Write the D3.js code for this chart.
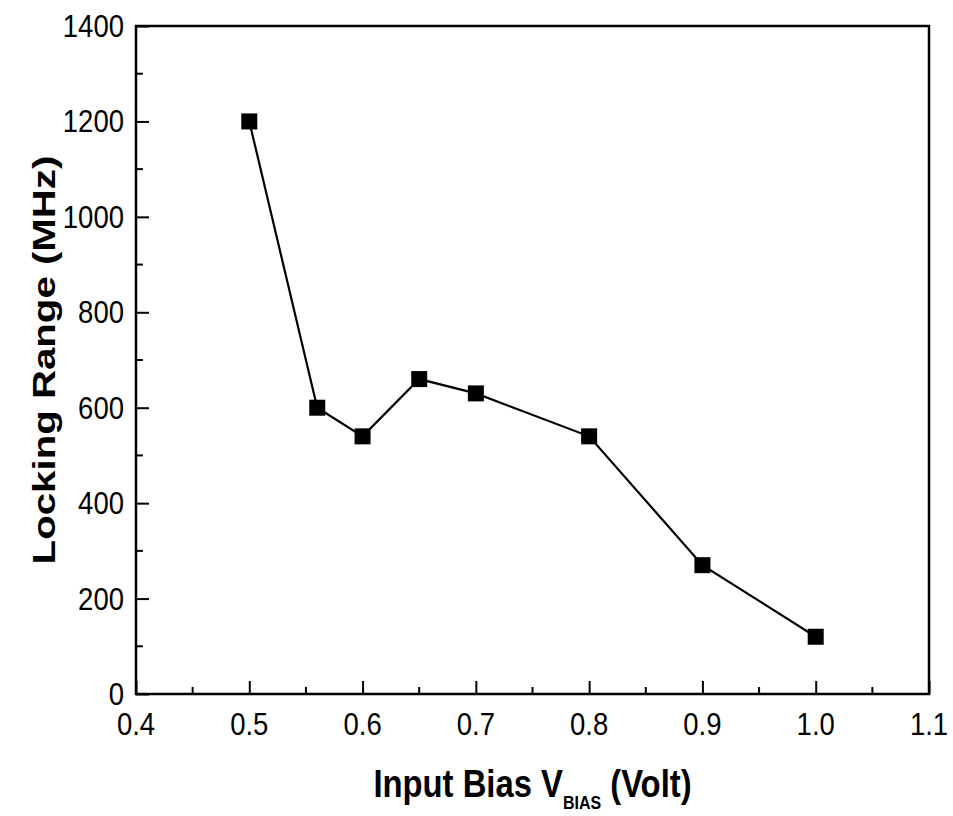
<!DOCTYPE html>
<html>
<head>
<meta charset="utf-8">
<script src="https://cdn.jsdelivr.net/npm/d3@7"></script>
<style>
	body { margin: 0; background: #fff; }
	text { font-family: Arial, 'Liberation Sans', sans-serif; fill: #000; }
</style>
</head>
<body>
<div id="chart_div"></div>
<script>
// data
var bias_volts = [0.5, 0.56, 0.6, 0.65, 0.7, 0.8, 0.9, 1.0];
var locking_mhz = [1200, 600, 540, 660, 630, 540, 270, 120];
var x_ticks = [0.4, 0.5, 0.6, 0.7, 0.8, 0.9, 1.0, 1.1];
var y_ticks = [0, 200, 400, 600, 800, 1000, 1200, 1400];

var width = 953, height = 816;
var margin = { left: 136, right: 24, top: 26, bottom: 122 };

var svg = d3.select('#chart_div')
	.append('svg')
	.attr('width', width)
	.attr('height', height);

var x = d3.scaleLinear().domain([0.4, 1.1]).range([margin.left, width - margin.right]);
var y = d3.scaleLinear().domain([0, 1400]).range([height - margin.bottom, margin.top]);

// minor ticks halfway between the majors
var x_minor = d3.range(0.45, 1.1, 0.1);
var y_minor = d3.range(100, 1400, 200);

// the original figure is a bit stretched vertically, so text gets a y-scale
var x_axis = d3.axisBottom(x).tickValues(x_ticks).tickFormat('').tickSizeInner(-13).tickSizeOuter(0);
var y_axis = d3.axisLeft(y).tickValues(y_ticks).tickFormat('').tickSizeInner(-13).tickSizeOuter(0);

var gx = svg.append('g')
	.attr('transform', 'translate(0,' + y(0) + ')')
	.call(x_axis);
var gy = svg.append('g')
	.attr('transform', 'translate(' + x(0.4) + ',0)')
	.call(y_axis);

[gx, gy].forEach(function (g) {
	g.select('.domain').remove();
	g.selectAll('line').attr('stroke', '#000').attr('stroke-width', 2);
});

var tick_font = 27.5;
var tick_stretch = 1.11;
var x_format = d3.format('.1f');

svg.selectAll('.x_label')
	.data(x_ticks)
	.enter()
	.append('text')
	.attr('class', 'x_label')
	.attr('transform', (d) => 'translate(' + x(d) + ',735) scale(1,' + tick_stretch + ')')
	.attr('text-anchor', 'middle')
	.attr('font-size', tick_font)
	.text((d) => x_format(d));

svg.selectAll('.y_label')
	.data(y_ticks)
	.enter()
	.append('text')
	.attr('class', 'y_label')
	.attr('transform', (d) => 'translate(124,' + (y(d) + 11) + ') scale(1,' + tick_stretch + ')')
	.attr('text-anchor', 'end')
	.attr('font-size', tick_font)
	.text((d) => d);

// minor ticks
svg.selectAll('.x_minor')
	.data(x_minor)
	.enter()
	.append('line')
	.attr('x1', (d) => x(d))
	.attr('x2', (d) => x(d))
	.attr('y1', y(0))
	.attr('y2', y(0) - 7)
	.attr('stroke', '#000')
	.attr('stroke-width', 2);
svg.selectAll('.y_minor')
	.data(y_minor)
	.enter()
	.append('line')
	.attr('x1', x(0.4))
	.attr('x2', x(0.4) + 7)
	.attr('y1', (d) => y(d))
	.attr('y2', (d) => y(d))
	.attr('stroke', '#000')
	.attr('stroke-width', 2);

// frame
svg.append('rect')
	.attr('x', x(0.4))
	.attr('y', y(1400))
	.attr('width', x(1.1) - x(0.4))
	.attr('height', y(0) - y(1400))
	.attr('fill', 'none')
	.attr('stroke', '#000')
	.attr('stroke-width', 2.5);

var points = bias_volts.map((d, i) => ({ v: d, f: locking_mhz[i] }));

var line = d3.line()
	.x((d) => x(d.v))
	.y((d) => y(d.f));

svg.append('path')
	.datum(points)
	.attr('d', line)
	.attr('fill', 'none')
	.attr('stroke', '#000')
	.attr('stroke-width', 2.2);

var marker_size = 16;
svg.selectAll('.marker')
	.data(points)
	.enter()
	.append('rect')
	.attr('x', (d) => x(d.v) - marker_size / 2)
	.attr('y', (d) => y(d.f) - marker_size / 2)
	.attr('width', marker_size)
	.attr('height', marker_size)
	.attr('fill', '#000');

// axis titles
var x_title = svg.append('text')
	.attr('transform', 'translate(' + (x(0.4) + x(1.1)) / 2 + ',797) scale(1,1.19)')
	.attr('text-anchor', 'middle')
	.attr('font-size', 32.8)
	.attr('font-weight', 'bold');
x_title.append('tspan').text('Input Bias V');
x_title.append('tspan').attr('font-size', 16).attr('dy', 10).text('BIAS');
x_title.append('tspan').attr('dy', -10).text(' (Volt)');

svg.append('text')
	.attr('transform', 'translate(55,' + (y(0) + y(1400)) / 2 + ') rotate(-90) scale(1.31,1)')
	.attr('text-anchor', 'middle')
	.attr('font-size', 30.7)
	.attr('font-weight', 'bold')
	.text('Locking Range (MHz)');
</script>
</body>
</html>
